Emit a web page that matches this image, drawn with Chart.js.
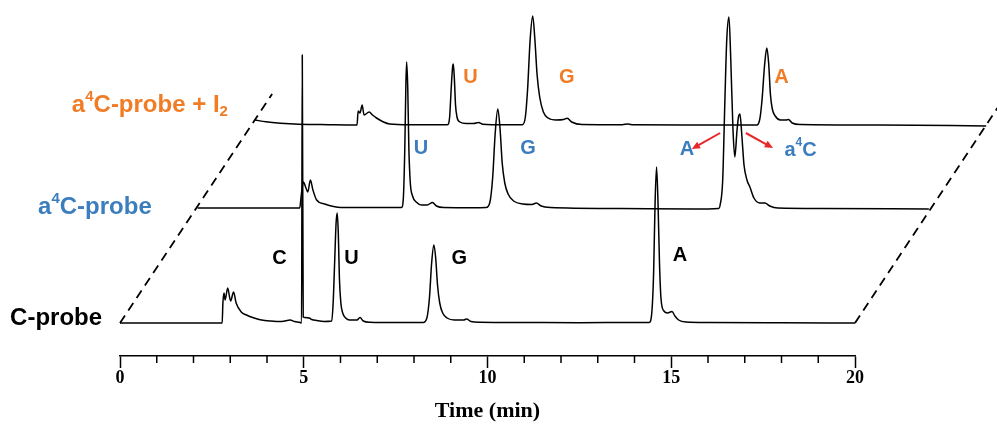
<!DOCTYPE html>
<html>
<head>
<meta charset="utf-8">
<script src="https://cdn.jsdelivr.net/npm/chart.js@4.4.0/dist/chart.umd.min.js"></script>
<style>
  html, body { margin: 0; padding: 0; background: #fff; }
  #wrap { width: 997px; height: 425px; position: relative; }
</style>
</head>
<body>
<div id="wrap"><canvas id="hplc"></canvas></div>
<script>
// [retention time (min), signal]
const cProbe = [
  [0, 0], [2.78, 0], [2.80, 20], [2.83, 30], [2.86, 23], [2.93, 35], [3.01, 22], [3.09, 31],
  [3.16, 20], [3.30, 11], [3.44, 8], [3.65, 5], [3.85, 3], [4.10, 2], [4.40, 1.5], [4.63, 3],
  [4.75, 1.5], [4.90, 0.5], [4.94, 0], [4.96, 268], [4.985, 6], [5.03, 5.5], [5.15, 5],
  [5.22, 3.5], [5.35, 2.5], [5.55, 1.5], [5.76, 2], [5.80, 20], [5.84, 60], [5.88, 100],
  [5.91, 110], [5.94, 90], [5.97, 45], [6.01, 20], [6.06, 10], [6.14, 5], [6.25, 3], [6.45, 3],
  [6.53, 5.5], [6.62, 2], [6.80, 0.8], [7.50, 0.5], [8.25, 0.5], [8.35, 5], [8.42, 25],
  [8.48, 60], [8.54, 78], [8.59, 65], [8.64, 38], [8.70, 20], [8.78, 10], [8.90, 5], [9.10, 3],
  [9.35, 3], [9.43, 4], [9.55, 1.5], [9.80, 0.8], [11.0, 0.5], [12.5, 0.3], [14.0, 0.5],
  [14.40, 0.5], [14.47, 10], [14.52, 50], [14.56, 120], [14.60, 156], [14.64, 120], [14.68, 60],
  [14.72, 25], [14.80, 12], [14.90, 10], [15.02, 11.5], [15.10, 7], [15.20, 3], [15.40, 1],
  [16.0, 0.5], [18.0, 0.2], [20.0, 0]
];
const a4cProbe = [
  [0, 0], [1.5, 0], [2.78, 0], [2.82, 12], [2.88, 26], [2.95, 20], [3.00, 16], [3.07, 28],
  [3.14, 18], [3.24, 8], [3.46, 4], [3.70, 1.5], [3.90, 0.5], [4.50, 0.5], [5.20, 0.5],
  [5.55, 0.5], [5.60, 10], [5.64, 60], [5.67, 125], [5.69, 146], [5.72, 120], [5.75, 60],
  [5.79, 25], [5.85, 12], [5.95, 6], [6.10, 3], [6.25, 3], [6.39, 5.5], [6.50, 2], [6.70, 0.5],
  [7.50, 0.3], [7.85, 0.5], [7.95, 5], [8.03, 30], [8.10, 75], [8.17, 99], [8.23, 80],
  [8.29, 45], [8.36, 25], [8.45, 14], [8.60, 7], [8.85, 4], [9.10, 3.5], [9.22, 5], [9.35, 2],
  [9.60, 0.5], [11.5, -0.5], [13.5, -1], [14.18, -0.5], [14.22, 3], [14.29, 28], [14.35, 108],
  [14.40, 168], [14.46, 191], [14.51, 148], [14.57, 78], [14.62, 51], [14.68, 78], [14.72, 91],
  [14.76, 94], [14.81, 73], [14.87, 43], [14.95, 28], [15.03, 21], [15.14, 10], [15.30, 5],
  [15.44, 5], [15.57, 2], [15.79, 0], [17.0, -0.5], [19.9, -1]
];
const a4cIodine = [
  [0, 5], [0.3, 3.2], [0.7, 1.8], [1.2, 0.8], [2.0, 0.3], [2.78, 0], [2.81, 14], [2.86, 12],
  [2.92, 20], [2.97, 10], [3.11, 13], [3.20, 10], [3.31, 7], [3.50, 3], [3.67, 1], [4.20, 0.3],
  [5.24, 0.3], [5.30, 8], [5.34, 35], [5.38, 58], [5.40, 61], [5.43, 45], [5.46, 20], [5.50, 8],
  [5.58, 3], [5.75, 1.5], [5.95, 1.5], [6.09, 2.5], [6.20, 0.8], [6.80, 0.3], [7.28, 0.3],
  [7.36, 8], [7.42, 35], [7.49, 85], [7.56, 109], [7.62, 85], [7.68, 50], [7.75, 28], [7.85, 13],
  [7.98, 7], [8.20, 5], [8.40, 5.5], [8.50, 6.7], [8.62, 3], [8.90, 0.5], [10.0, 0.3],
  [10.15, 1], [10.3, 0.2], [12.0, 0], [13.66, 0], [13.74, 6], [13.80, 25], [13.87, 60],
  [13.93, 77], [13.98, 62], [14.03, 30], [14.08, 16], [14.16, 9], [14.30, 5], [14.45, 5],
  [14.52, 5.5], [14.62, 2], [14.85, 0.5], [17.0, 0], [19.9, -1]
];

// waterfall offsets [minutes, signal] for the back traces
const a4cShift = [2.11, 115];
const iodineShift = [3.67, 198];

// guide lines joining trace starts and ends
const leftGuide = [[0, 0], [4.14, 229]];
const rightGuide = [[20, 0], [24, 222]];

const timeTicks = [0, 5, 10, 15, 20];

const ORANGE = '#F07C26';
const BLUE = '#3C7DBD';
const RED = '#E8272B';
const SANS = "Arial, 'Liberation Sans', sans-serif";
const SERIF = "'Times New Roman', 'Liberation Serif', serif";

function toPoints(pairs, shift) {
  const dx = shift ? shift[0] : 0, dy = shift ? shift[1] : 0;
  return pairs.map(p => ({ x: p[0] + dx, y: p[1] + dy }));
}

function trace(pairs, shift) {
  return {
    data: toPoints(pairs, shift),
    borderColor: '#000',
    borderWidth: 1.5,
    pointRadius: 0,
    fill: false,
    cubicInterpolationMode: 'monotone',
    clip: false
  };
}

function guide(pairs) {
  return {
    data: toPoints(pairs),
    borderColor: '#000',
    borderWidth: 1.8,
    borderDash: [9, 6],
    pointRadius: 0,
    fill: false,
    clip: false
  };
}

// text with super/subscript pieces: [text, kind] kind 0 normal, -1 sup, 1 sub
function drawRich(ctx, parts, x, y, size, align) {
  const small = Math.round(size * 0.62);
  let total = 0;
  parts.forEach(([t, k]) => {
    ctx.font = 'bold ' + (k ? small : size) + 'px ' + SANS;
    total += ctx.measureText(t).width;
  });
  let cx = align === 'center' ? x - total / 2 : x;
  ctx.textAlign = 'left';
  ctx.textBaseline = 'middle';
  parts.forEach(([t, k]) => {
    ctx.font = 'bold ' + (k ? small : size) + 'px ' + SANS;
    const dy = k === -1 ? -size * 0.36 : (k === 1 ? size * 0.3 : 0);
    ctx.fillText(t, cx, y + dy);
    cx += ctx.measureText(t).width;
  });
}

const seriesNames = [
  { parts: [['C-probe', 0]], color: '#000', at: [-2.99, 5] },
  { parts: [['a', 0], ['4', -1], ['C-probe', 0]], color: BLUE, at: [-2.23, 116] },
  { parts: [['a', 0], ['4', -1], ['C-probe + I', 0], ['2', 1]], color: ORANGE, at: [-1.31, 218] }
];

const peakNames = [
  { parts: [['C', 0]], color: '#000', at: [4.34, 65] },
  { parts: [['U', 0]], color: '#000', at: [6.30, 65] },
  { parts: [['G', 0]], color: '#000', at: [9.23, 65] },
  { parts: [['A', 0]], color: '#000', at: [15.24, 68] },
  { parts: [['U', 0]], color: BLUE, at: [8.19, 175] },
  { parts: [['G', 0]], color: BLUE, at: [11.10, 175] },
  { parts: [['A', 0]], color: BLUE, at: [15.43, 174] },
  { parts: [['a', 0], ['4', -1], ['C', 0]], color: BLUE, at: [18.52, 173] },
  { parts: [['U', 0]], color: ORANGE, at: [9.54, 246] },
  { parts: [['G', 0]], color: ORANGE, at: [12.16, 246] },
  { parts: [['A', 0]], color: ORANGE, at: [18.0, 246] }
];

const arrows = [
  [[16.33, 190], [15.56, 174]],
  [[17.03, 190], [17.77, 175]]
];

const annotations = {
  id: 'annotations',
  afterDatasetsDraw(chart) {
    const { ctx, scales: { x, y } } = chart;
    ctx.save();
    seriesNames.forEach(s => {
      ctx.fillStyle = s.color;
      drawRich(ctx, s.parts, x.getPixelForValue(s.at[0]), y.getPixelForValue(s.at[1]), 24, 'left');
    });
    peakNames.forEach(s => {
      ctx.fillStyle = s.color;
      drawRich(ctx, s.parts, x.getPixelForValue(s.at[0]), y.getPixelForValue(s.at[1]), 20, 'center');
    });
    ctx.strokeStyle = RED;
    ctx.fillStyle = RED;
    ctx.lineWidth = 2;
    arrows.forEach(([a, b]) => {
      const x1 = x.getPixelForValue(a[0]), y1 = y.getPixelForValue(a[1]);
      const x2 = x.getPixelForValue(b[0]), y2 = y.getPixelForValue(b[1]);
      const ang = Math.atan2(y2 - y1, x2 - x1);
      const head = 9;
      ctx.beginPath();
      ctx.moveTo(x1, y1);
      ctx.lineTo(x2 - Math.cos(ang) * head * 0.8, y2 - Math.sin(ang) * head * 0.8);
      ctx.stroke();
      ctx.beginPath();
      ctx.moveTo(x2, y2);
      ctx.lineTo(x2 - head * Math.cos(ang - 0.42), y2 - head * Math.sin(ang - 0.42));
      ctx.lineTo(x2 - head * Math.cos(ang + 0.42), y2 - head * Math.sin(ang + 0.42));
      ctx.closePath();
      ctx.fill();
    });
    ctx.restore();
  }
};

// short ticks at every minute between the labelled ones
const minorTicks = {
  id: 'minorTicks',
  afterDraw(chart) {
    const { ctx, scales: { x } } = chart;
    const y0 = chart.chartArea.bottom;
    ctx.save();
    ctx.strokeStyle = '#000';
    ctx.lineWidth = 1.5;
    for (let t = 1; t < 20; t++) {
      if (timeTicks.includes(t)) continue;
      const px = x.getPixelForValue(t);
      ctx.beginPath();
      ctx.moveTo(px, y0);
      ctx.lineTo(px, y0 + 7);
      ctx.stroke();
    }
    ctx.restore();
  }
};

new Chart(document.getElementById('hplc'), {
  type: 'line',
  data: {
    datasets: [
      guide(leftGuide),
      guide(rightGuide),
      trace(a4cIodine, iodineShift),
      trace(a4cProbe, a4cShift),
      trace(cProbe)
    ]
  },
  options: {
    responsive: true,
    maintainAspectRatio: false,
    animation: false,
    layout: { padding: { left: 120, right: 142, top: 0, bottom: 0 } },
    plugins: { legend: { display: false }, tooltip: { enabled: false } },
    scales: {
      x: {
        type: 'linear',
        // range set after data limits so shifted traces past 20 min are still drawn
        afterDataLimits: scale => { scale.min = timeTicks[0]; scale.max = timeTicks[timeTicks.length - 1]; },
        afterBuildTicks: scale => { scale.ticks = timeTicks.map(v => ({ value: v })); },
        ticks: {
          color: '#000',
          font: { family: SERIF, size: 18, weight: 'bold' },
          padding: 0,
          maxRotation: 0,
          autoSkip: false
        },
        grid: {
          drawOnChartArea: false,
          drawTicks: true,
          tickLength: 12,
          tickWidth: 1.5,
          tickColor: '#000'
        },
        border: { display: true, color: '#000', width: 1.5 },
        title: {
          display: true,
          text: 'Time (min)',
          color: '#000',
          font: { family: SERIF, size: 22, weight: 'bold' },
          padding: { top: 9, bottom: 0 }
        }
      },
      y: {
        display: false,
        min: -33,
        max: 323
      }
    }
  },
  plugins: [annotations, minorTicks]
});
</script>
</body>
</html>
